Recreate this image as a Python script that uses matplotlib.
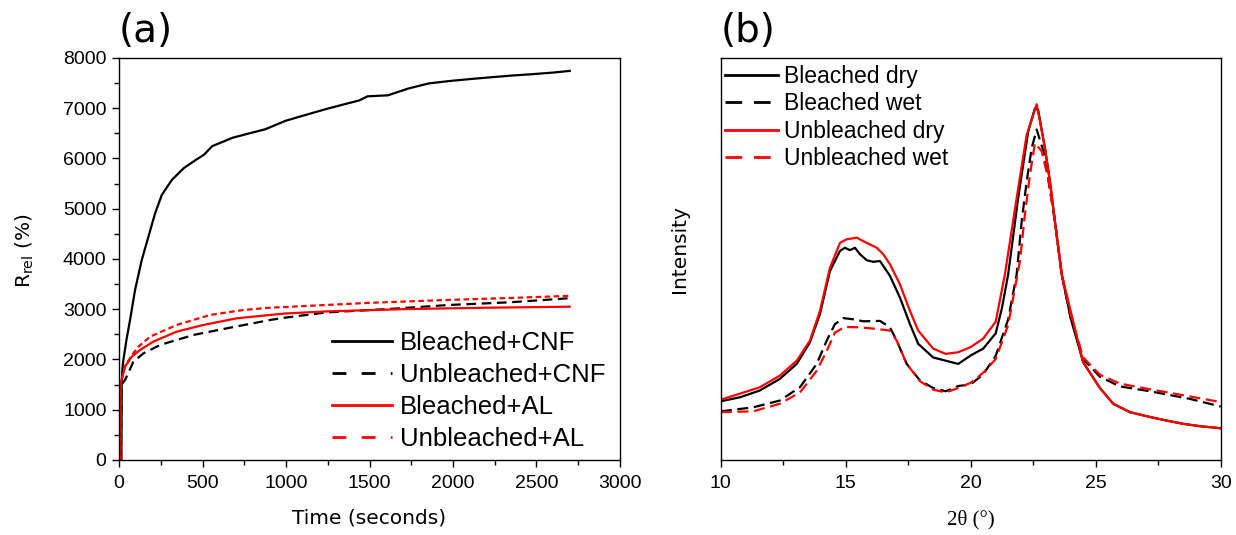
import matplotlib.pyplot as plt
from matplotlib.lines import Line2D
from matplotlib.ticker import MultipleLocator, NullLocator

plt.rcParams['font.family'] = 'Liberation Sans'
plt.rcParams['mathtext.default'] = 'regular'
plt.rcParams['lines.scale_dashes'] = False

# (a) relative resistance vs time
t_bl_cnf = [14, 16, 20, 26, 45, 66, 96, 136, 176, 216, 256, 316, 387, 450, 509, 558, 620, 680,
            780, 876, 998, 1100, 1243, 1350, 1439, 1488, 1610, 1732, 1855, 1977, 2100, 2222,
            2350, 2467, 2600, 2699]
r_bl_cnf = [0, 1500, 1800, 1990, 2400, 2786, 3383, 3980, 4444, 4909, 5274, 5572, 5806, 5950,
            6076, 6245, 6330, 6413, 6500, 6582, 6751, 6850, 6987, 7080, 7156, 7237, 7257, 7392,
            7494, 7541, 7580, 7615, 7650, 7676, 7710, 7743]

t_ub_cnf = [12, 14, 36, 86, 146, 246, 445, 645, 904, 1000, 1243, 1610, 1977, 2345, 2699]
r_ub_cnf = [0, 1500, 1592, 1956, 2122, 2289, 2488, 2620, 2786, 2835, 2937, 3004, 3085, 3139, 3220]

t_bl_al = [8, 10, 36, 76, 126, 205, 345, 505, 705, 904, 998, 1243, 1732, 2200, 2699]
r_bl_al = [0, 1526, 1857, 2056, 2189, 2355, 2554, 2687, 2820, 2886, 2916, 2957, 3004, 3030, 3051]

t_ub_al = [8, 10, 36, 76, 116, 186, 345, 545, 744, 904, 1000, 1488, 1977, 2350, 2699]
r_ub_al = [0, 1526, 1870, 2080, 2255, 2454, 2687, 2886, 2985, 3031, 3045, 3126, 3186, 3225, 3267]

# (b) XRD patterns
th_bl_dry = [10, 10.77, 11.57, 12.37, 13.04, 13.57, 13.97, 14.37, 14.77, 14.97, 15.17, 15.37,
             15.57, 15.84, 16.1, 16.37, 16.5, 16.77, 17.17, 17.57, 17.9, 18.5, 19.0, 19.5, 20.0,
             20.5, 21.0, 21.25, 21.5, 21.9, 22.3, 22.57, 22.7, 22.97, 23.17, 23.37, 23.64, 24.0,
             24.5, 25.17, 25.7, 26.37, 27.17, 27.84, 28.5, 29.17, 30]
i_bl_dry = [14.6, 15.6, 17.3, 20.2, 23.9, 29.3, 36.3, 47.0, 52.0, 52.8, 52.2, 52.8, 51.2, 49.7,
            49.3, 49.5, 48.3, 45.8, 40.4, 33.8, 28.9, 25.5, 24.7, 23.9, 26.0, 27.7, 31.5, 37.8,
            46.2, 65.2, 81.7, 87.5, 87.0, 77.6, 69.3, 59.4, 46.2, 35.3, 24.3, 17.9, 14.0, 11.9,
            10.7, 9.8, 9.0, 8.4, 7.9]

th_bl_wet = [10, 11.3, 12.37, 13.17, 13.84, 14.24, 14.57, 14.9, 15.3, 15.7, 16.37, 16.77, 17.04,
             17.44, 17.97, 18.5, 19.0, 19.5, 20.0, 20.5, 21.0, 21.5, 21.84, 22.04, 22.24, 22.44,
             22.64, 22.9, 23.1, 23.37, 23.64, 24.0, 24.5, 25.17, 25.97, 27.17, 28.77, 30]
i_bl_wet = [12.1, 13.1, 14.8, 18.1, 23.9, 29.7, 33.8, 35.3, 35.0, 34.5, 34.6, 33.0, 29.7, 23.9,
            19.8, 17.9, 17.1, 18.4, 18.8, 21.3, 25.9, 35.0, 46.2, 59.4, 69.3, 77.6, 82.2, 77.0,
            70.0, 59.4, 46.2, 35.3, 25.1, 20.7, 18.3, 17.1, 15.2, 13.3]

th_ub_dry = [10, 10.77, 11.57, 12.37, 13.04, 13.57, 13.97, 14.37, 14.77, 15.04, 15.44, 15.84,
             16.24, 16.5, 16.77, 17.17, 17.57, 17.9, 18.5, 19.0, 19.5, 20.0, 20.5, 21.0, 21.37,
             21.84, 22.24, 22.64, 22.97, 23.17, 23.37, 23.64, 24.0, 24.5, 25.17, 25.7, 26.37,
             27.17, 27.84, 28.5, 29.17, 30]
i_ub_dry = [15.0, 16.5, 18.1, 21.0, 24.7, 29.7, 37.1, 47.8, 54.0, 54.9, 55.3, 54.0, 52.8, 51.2,
            48.7, 43.7, 37.1, 32.2, 27.7, 26.4, 26.8, 28.1, 30.2, 34.4, 46.2, 65.2, 80.9, 88.5,
            77.6, 69.3, 59.4, 46.2, 37.0, 24.3, 17.9, 14.0, 11.9, 10.7, 9.8, 9.0, 8.4, 7.9]

th_ub_wet = [10, 11.3, 12.37, 13.17, 13.84, 14.24, 14.57, 14.97, 15.57, 16.24, 16.77, 17.04,
             17.44, 17.97, 18.5, 19.0, 19.5, 20.0, 20.5, 21.0, 21.5, 21.97, 22.17, 22.37, 22.57,
             22.84, 23.1, 23.37, 23.64, 24.0, 24.5, 25.17, 25.97, 27.17, 28.77, 30]
i_ub_wet = [11.9, 12.1, 14.0, 16.8, 22.2, 27.1, 31.7, 33.1, 33.0, 32.6, 32.2, 29.7, 23.9, 19.6,
            17.5, 16.8, 17.9, 19.2, 21.7, 25.1, 33.6, 49.5, 61.1, 71.0, 78.8, 76.8, 70.0, 59.4,
            46.2, 36.1, 25.5, 21.2, 19.0, 17.6, 15.8, 14.4]

labels_a = ['Bleached+CNF', 'Unbleached+CNF', 'Bleached+AL', 'Unbleached+AL']
labels_b = ['Bleached dry', 'Bleached wet', 'Unbleached dry', 'Unbleached wet']

lw = 1.6
fig = plt.figure(figsize=(12.36, 5.35), dpi=100)
ax1 = fig.add_axes([0.0963, 0.1402, 0.4053, 0.7514])
ax2 = fig.add_axes([0.5831, 0.1402, 0.4045, 0.7514])

ax1.plot(t_bl_cnf, r_bl_cnf, color='black', lw=lw)
ax1.plot(t_ub_cnf, r_ub_cnf, color='black', lw=lw, dashes=(7, 4))
ax1.plot(t_bl_al, r_bl_al, color='red', lw=lw)
ax1.plot(t_ub_al, r_ub_al, color='red', lw=lw, dashes=(4, 2.5))

ax2.plot(th_bl_dry, i_bl_dry, color='black', lw=lw)
ax2.plot(th_bl_wet, i_bl_wet, color='black', lw=lw, dashes=(8, 4))
ax2.plot(th_ub_dry, i_ub_dry, color='red', lw=lw)
ax2.plot(th_ub_wet, i_ub_wet, color='red', lw=lw, dashes=(8, 4))

ax1.set_xlim(0, 3000)
ax1.set_ylim(0, 8000)
ax1.xaxis.set_major_locator(MultipleLocator(500))
ax1.xaxis.set_minor_locator(MultipleLocator(250))
ax1.yaxis.set_major_locator(MultipleLocator(1000))
ax1.yaxis.set_minor_locator(MultipleLocator(500))

ax2.set_xlim(10, 30)
ax2.set_ylim(0, 100)
ax2.xaxis.set_major_locator(MultipleLocator(5))
ax2.xaxis.set_minor_locator(MultipleLocator(2.5))
ax2.yaxis.set_major_locator(NullLocator())

for ax in (ax1, ax2):
    for sp in ax.spines.values():
        sp.set_linewidth(1.0)
    ax.tick_params(which='major', direction='out', length=5, width=1, labelsize=14, pad=6)
    ax.tick_params(which='minor', direction='out', length=3.5, width=1)
    ax.tick_params(axis='y', pad=4)

ax1.set_xlabel('Time (seconds)', family='DejaVu Sans', fontsize=14.5)
ax1.set_ylabel('R$_{rel}$ (%)', family='DejaVu Sans', fontsize=14.5)
ax1.xaxis.set_label_coords(0.5, -0.12)
ax1.yaxis.set_label_coords(-0.165, 0.52)

ax2.set_xlabel('2θ (°)', family='Liberation Serif', fontsize=15)
ax2.set_ylabel('Intensity', family='DejaVu Sans', fontsize=14.5)
ax2.xaxis.set_label_coords(0.5, -0.125)
ax2.yaxis.set_label_coords(-0.064, 0.525)

ax1.text(0.0, 1.02, '(a)', transform=ax1.transAxes, family='DejaVu Sans', fontsize=28,
         ha='left', va='bottom')
ax2.text(0.0, 1.02, '(b)', transform=ax2.transAxes, family='DejaVu Sans', fontsize=28,
         ha='left', va='bottom')

# legend handles with longer dashes than the plotted lines
h_a = [Line2D([], [], color='black', lw=2),
       Line2D([], [], color='black', lw=2, dashes=(10, 11)),
       Line2D([], [], color='red', lw=2),
       Line2D([], [], color='red', lw=2, dashes=(10, 11))]
h_b = [Line2D([], [], color='black', lw=2),
       Line2D([], [], color='black', lw=2, dashes=(12, 8.5)),
       Line2D([], [], color='red', lw=2),
       Line2D([], [], color='red', lw=2, dashes=(12, 8.5))]

ax1.legend(h_a, labels_a, loc='upper left', bbox_to_anchor=(0.425, 0.322), frameon=False,
           fontsize=18.5, handlelength=2.33, handletextpad=0.31, labelspacing=0.32,
           borderpad=0, borderaxespad=0)
ax2.legend(h_b, labels_b, loc='upper left', bbox_to_anchor=(0.009, 0.9826), frameon=False,
           fontsize=16.5, handlelength=2.3, handletextpad=0.26, labelspacing=0.19,
           borderpad=0, borderaxespad=0)

fig.savefig('out.png', dpi=100)
